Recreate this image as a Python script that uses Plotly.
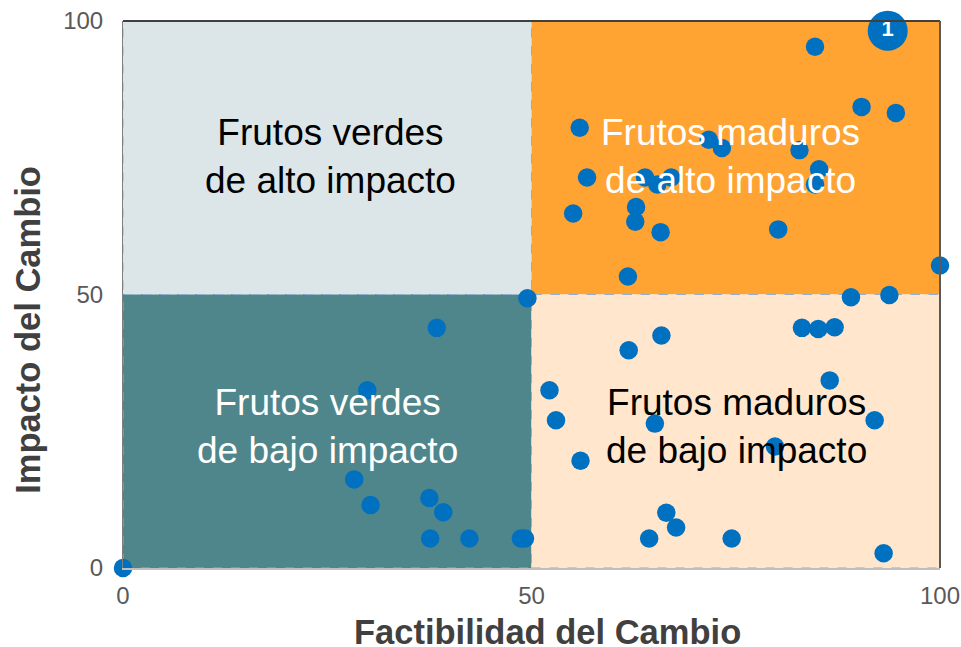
import plotly.graph_objects as go

# scatter points
factibilidad = [84.7, 90.4, 94.6, 55.9, 71.7, 73.3, 82.8, 85.2, 84.7, 56.8, 63.9, 65.4, 67.1, 62.8, 62.7,
                55.1, 65.8, 80.2, 61.8, 100, 49.5, 89.1, 93.8, 83.1, 85.1, 87.1, 65.9, 61.9, 86.5, 52.2,
                53.0, 92.0, 65.1, 79.8, 56.0, 66.5, 67.7, 64.4, 74.5, 93.1, 38.4, 29.9, 28.3, 30.3, 37.5,
                39.2, 37.6, 42.4, 48.7, 49.2, 0]
impacto = [95.3, 84.3, 83.2, 80.5, 78.3, 76.8, 76.4, 72.9, 70.1, 71.4, 71.4, 70.1, 71.4, 66.0, 63.3,
           64.8, 61.4, 61.9, 53.3, 55.3, 49.3, 49.5, 49.9, 43.9, 43.7, 44.0, 42.5, 39.8, 34.3, 32.5,
           27.0, 27.0, 26.4, 22.2, 19.6, 10.1, 7.4, 5.4, 5.4, 2.7, 43.9, 32.5, 16.2, 11.5, 12.8,
           10.2, 5.4, 5.4, 5.4, 5.4, 0]

destacado_x = [93.6]
destacado_y = [98.2]
destacado_label = ["1"]

tick_vals = [0, 50, 100]

cuadrantes = [
    (0, 50, 50, 100, "#DCE6E8"),
    (50, 100, 50, 100, "#FFA333"),
    (0, 50, 0, 50, "#4F868C"),
    (50, 100, 0, 50, "#FFE6CC"),
]
etiquetas = [
    (25.4, 75.2, "Frutos verdes<br>de alto impacto", "#000000"),
    (74.3, 75.2, "Frutos maduros<br>de alto impacto", "#FFFFFF"),
    (25.0, 25.9, "Frutos verdes<br>de bajo impacto", "#FFFFFF"),
    (75.1, 25.9, "Frutos maduros<br>de bajo impacto", "#000000"),
]

FONT = "Liberation Sans, Arial, sans-serif"
AZUL = "#0070C0"

fig = go.Figure()

for x0, x1, y0, y1, color in cuadrantes:
    fig.add_shape(type="rect", x0=x0, x1=x1, y0=y0, y1=y1, fillcolor=color, layer="below",
                  line=dict(color="#8FAFCB", width=1, dash="dash"))

fig.add_trace(go.Scatter(x=factibilidad, y=impacto, mode="markers", cliponaxis=False,
                         marker=dict(size=18.5, color=AZUL), showlegend=False))
fig.add_trace(go.Scatter(x=destacado_x, y=destacado_y, mode="markers+text", cliponaxis=False,
                         text=destacado_label, textposition="middle center",
                         textfont=dict(family=FONT, size=22, color="white", weight="bold"),
                         marker=dict(size=40, color=AZUL), showlegend=False))

for x, y, texto, color in etiquetas:
    fig.add_annotation(x=x, y=y, text=texto, showarrow=False, align="center",
                       font=dict(family=FONT, size=37, color=color))

# axis titles sit off centre in the original, so they are placed by hand
fig.add_annotation(xref="paper", yref="paper", x=0.519, y=-0.117, xanchor="center", yanchor="middle",
                   height=30, text="<b>Factibilidad del Cambio</b>", showarrow=False,
                   font=dict(family=FONT, size=34.5, color="#404040"))
fig.add_annotation(xref="paper", yref="paper", x=-0.1155, y=0.4347, xanchor="center", yanchor="middle",
                   text="<b>Impacto del Cambio</b>", textangle=-90, showarrow=False,
                   font=dict(family=FONT, size=34.5, color="#404040"))

fig.update_xaxes(range=[0, 100], tickvals=tick_vals, showgrid=False, zeroline=False, automargin=False,
                 showline=True, linecolor="#BFBFBF", linewidth=2, ticks="", ticklabelstandoff=5,
                 tickfont=dict(family=FONT, size=24, color="#595959"))
fig.update_yaxes(range=[0, 100], tickvals=tick_vals, showgrid=False, zeroline=False, automargin=False,
                 showline=True, linecolor="#7F7F7F", linewidth=1, ticks="", ticklabelstandoff=14,
                 tickfont=dict(family=FONT, size=24, color="#595959"))

# top and right edge of the frame
fig.add_shape(type="line", xref="paper", yref="paper", x0=0, x1=1, y0=1, y1=1,
              line=dict(color="#404040", width=2))
fig.add_shape(type="line", xref="paper", yref="paper", x0=1, x1=1, y0=0, y1=1,
              line=dict(color="#595959", width=2))

fig.update_layout(width=961, height=647, paper_bgcolor="white", plot_bgcolor="white",
                  margin=dict(l=122.5, r=20.5, t=20.5, b=79), font=dict(family=FONT))

# page default body margin would shift the figure and add a scrollbar
fig.write_html("out.html", config={"displayModeBar": False},
               post_script="document.body.style.margin='0';document.documentElement.style.overflow='hidden';")
